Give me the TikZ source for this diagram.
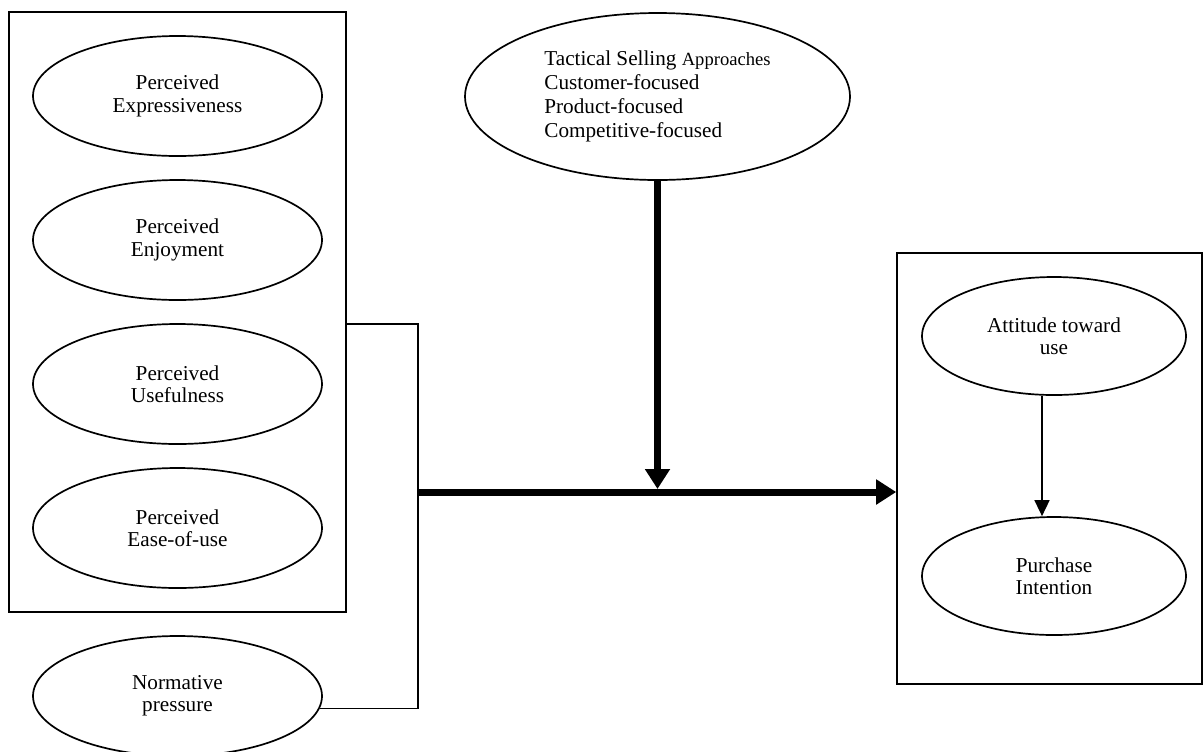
\documentclass[tikz,border=0pt]{standalone}
\usepackage{fontspec}
\setmainfont{Liberation Serif}
\usepackage{tikz}
\usetikzlibrary{shapes}
\usetikzlibrary{arrows.meta}
\usetikzlibrary{calc}
\tikzset{construct/.style={draw, ellipse, line width=0.85pt, inner sep=0pt, align=center, minimum width=144.5pt, minimum height=60pt}}
\tikzset{frame/.style={draw, rectangle, line width=0.8pt, inner sep=0pt}}
\tikzset{heavy arrow/.style={line width=3.5pt, -{Triangle[length=10pt, width=12pt]}}}

\begin{document}
\begin{tikzpicture}[x=0.5pt, y=-0.5pt, font=\fontsize{10.6}{11.15}\selectfont]
\useasboundingbox (0,0) rectangle (1203,751);
\node[frame, minimum width=168.5pt, minimum height=300pt] (lbox) at (177.5,312) {};
\node[construct] (expr) at (177.5,96) {Perceived\\Expressiveness};
\node[construct] (enjoy) at (177.5,240) {Perceived\\Enjoyment};
\node[construct] (useful) at (177.5,384) {Perceived\\Usefulness};
\node[construct] (ease) at (177.5,528) {Perceived\\Ease-of-use};
\node[construct] (norm) at (177.5,696) {Normative\\pressure};
\node[construct, minimum width=192.5pt, minimum height=83.5pt, align=left, font=\fontsize{10.6}{12}\selectfont] (tac) at (657.5,96.5) {Tactical Selling {\fontsize{9.3}{12}\selectfont Approaches}\\Customer-focused\\Product-focused\\Competitive-focused};
\node[frame, minimum width=152.5pt, minimum height=215.5pt] (rbox) at (1049.5,468.5) {};
\node[construct, minimum width=132pt, minimum height=59pt] (att) at (1054,336) {Attitude toward\\use};
\node[construct, minimum width=132pt, minimum height=59pt] (pur) at (1054,576) {Purchase\\Intention};
\coordinate (bend) at (418,324);
\coordinate (split) at (418,492);
\coordinate (meet) at (657.5,489);
\draw[line width=0.75pt] (lbox.east |- bend) -- (bend) |- (norm.-5);
\draw[heavy arrow] (split) -- (rbox.west |- split);
\draw[heavy arrow] (tac.south) -- (meet);
\draw[line width=0.75pt, -{Triangle[length=8pt, width=7.5pt]}] ([xshift=-6pt]att.south) -- ([xshift=-6pt]pur.north);
\end{tikzpicture}
\end{document}
